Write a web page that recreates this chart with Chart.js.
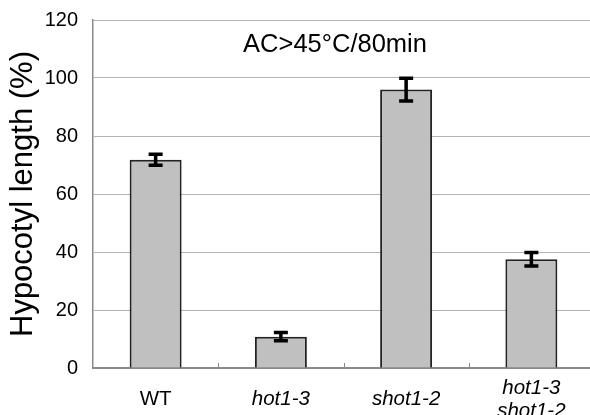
<!DOCTYPE html>
<html>
<head>
<meta charset="utf-8">
<script src="https://cdn.jsdelivr.net/npm/chart.js@4/dist/chart.umd.min.js"></script>
<style>
  html, body { margin: 0; padding: 0; overflow: hidden; background: #fff; }
  #wrap { width: 594px; height: 428px; position: relative; }
</style>
</head>
<body>
<div id="wrap"><canvas id="c"></canvas></div>
<script>
const categories = ['WT', 'hot1-3', 'shot1-2', ['hot1-3', 'shot1-2']];
const values = [71.8, 10.8, 96.0, 37.5];
const errors = [1.9, 1.4, 3.9, 2.3];
const yTicks = [0, 20, 40, 60, 80, 100, 120];
const annotationText = 'AC>45°C/80min';
const yTitle = 'Hypocotyl length (%)';

const FONT = '"Liberation Sans", Arial, Helvetica, sans-serif';

const errorBarPlugin = {
  id: 'errorBars',
  afterDatasetsDraw(chart) {
    const ctx = chart.ctx;
    const meta = chart.getDatasetMeta(0);
    const y = chart.scales.y;
    ctx.save();
    ctx.strokeStyle = '#000';
    ctx.lineWidth = 3.5;
    meta.data.forEach((bar, i) => {
      const x = bar.x;
      const top = y.getPixelForValue(values[i] + errors[i]);
      const bot = y.getPixelForValue(values[i] - errors[i]);
      ctx.beginPath();
      ctx.moveTo(x, top); ctx.lineTo(x, bot);
      ctx.moveTo(x - 7, top); ctx.lineTo(x + 7, top);
      ctx.moveTo(x - 7, bot); ctx.lineTo(x + 7, bot);
      ctx.stroke();
    });
    ctx.restore();
  }
};

const innerTicksPlugin = {
  id: 'innerTicks',
  afterDraw(chart) {
    const ctx = chart.ctx;
    const xs = chart.scales.x;
    const bottom = chart.chartArea.bottom;
    ctx.save();
    ctx.strokeStyle = '#8a8a8a';
    ctx.lineWidth = 1;
    for (let i = 0; i < categories.length - 1; i++) {
      const px = Math.round((xs.getPixelForValue(i) + xs.getPixelForValue(i + 1)) / 2) + 0.5;
      ctx.beginPath();
      ctx.moveTo(px, bottom - 5);
      ctx.lineTo(px, bottom);
      ctx.stroke();
    }
    // annotation
    ctx.fillStyle = '#000';
    ctx.font = '25.5px ' + FONT;
    ctx.textAlign = 'center';
    ctx.textBaseline = 'middle';
    ctx.fillText(annotationText, chart.chartArea.left + 242, chart.chartArea.top + 25);
    ctx.restore();
  }
};

new Chart(document.getElementById('c'), {
  type: 'bar',
  data: {
    labels: categories,
    datasets: [{
      data: values,
      backgroundColor: '#c0c0c0',
      borderColor: '#222',
      borderWidth: 2,
      barPercentage: 0.415,
      categoryPercentage: 1.0
    }]
  },
  options: {
    responsive: true,
    maintainAspectRatio: false,
    animation: false,
    events: [],
    layout: { padding: { top: 20, left: 0, right: 0, bottom: 0 } },
    plugins: {
      legend: { display: false },
      tooltip: { enabled: false },
      title: { display: false }
    },
    scales: {
      x: {
        offset: true,
        grid: { display: false, drawTicks: false },
        border: { display: true, color: '#8a8a8a', width: 2 },
        ticks: {
          color: '#000',
          padding: 20,
          maxRotation: 0,
          autoSkip: false,
          crossAlign: 'center',
          font: (c) => ({ family: FONT, size: 20.5, style: c.index === 0 ? 'normal' : 'italic', lineHeight: 1.12 })
        },
        afterFit: (s) => { s.height = 60; s.paddingLeft = 0; s.paddingRight = 0; }
      },
      y: {
        min: 0,
        max: 120,
        afterBuildTicks: (s) => { s.ticks = yTicks.map(v => ({ value: v })); },
        grid: { color: '#b4b4b4', lineWidth: 1, drawTicks: false },
        border: { display: true, color: '#8a8a8a', width: 1.5 },
        ticks: {
          color: '#000',
          padding: 15,
          font: { family: FONT, size: 20 }
        },
        title: {
          display: true,
          text: yTitle,
          color: '#000',
          font: { family: FONT, size: 31 },
          padding: { top: 5, bottom: 0 }
        },
        afterFit: (s) => { s.width = 93; s.paddingTop = 0; s.paddingBottom = 0; }
      }
    }
  },
  plugins: [errorBarPlugin, innerTicksPlugin]
});
</script>
</body>
</html>
